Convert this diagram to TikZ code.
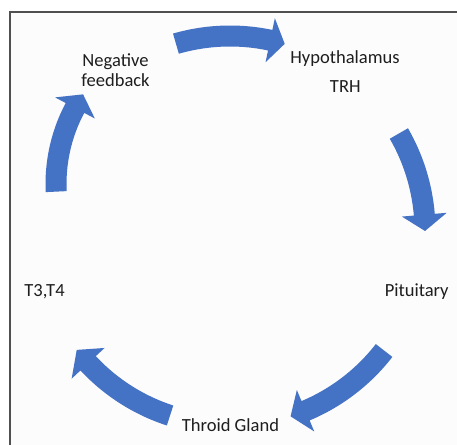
\documentclass[tikz,border=0pt]{standalone}
\usepackage{fontspec}
\setmainfont{Carlito}
\definecolor{arrowblue}{HTML}{4472C4}
\definecolor{framegray}{HTML}{505050}
\definecolor{bggray}{HTML}{FCFCFC}
\definecolor{textgray}{HTML}{1E1E1E}
\def\arrbw{10.5}
\def\arrhw{22.5}
% #1,#2 centre (pixels), #3 radius, #4 tail angle, #5 head-base angle, #6 tip angle
\newcommand\cyclearrow[6]{%
  \begin{scope}[shift={(#1,-#2)}]
    \fill[cyclearr] plot[domain=#4:#5,samples=40] (\x:{#3+\arrbw})
      -- (#5:{#3+\arrhw}) -- (#6:#3) -- (#5:{#3-\arrhw})
      -- plot[domain=#5:#4,samples=40] (\x:{#3-\arrbw}) -- cycle;
  \end{scope}}
\tikzset{
  cyclearr/.style={fill=arrowblue},
  lbl/.style={font=\fontsize{13.9}{16}\selectfont, text=textgray, inner sep=0pt, anchor=base},
  framebox/.style={draw=framegray, line width=1.2pt},
}
\begin{document}
\begin{tikzpicture}[x=0.75pt,y=0.75pt]
\useasboundingbox (0,0) rectangle (457,-445);
\fill[bggray] (10,-12) rectangle (457,-445);
\draw[framebox] (457,-12) -- (10,-12) -- (10,-445);

% arrows
\cyclearrow{230}{231}{195}{106.1}{78.1}{73.7}
\cyclearrow{230}{231}{195}{30.0}{4.8}{0}
\cyclearrow{230}{231}{195}{-37.8}{-67.2}{-71.9}
\cyclearrow{230}{231}{194}{-108}{-137}{-142.2}
\cyclearrow{218}{184}{162}{182.7}{152}{146.4}

% labels
\node[lbl] (hyp) at (345,-63.3) {Hypothalamus};
\node[lbl] (trh) at (345.3,-92.7) {TRH};
\node[lbl] (pit) at (416.7,-296.7) {Pituitary};
\node[lbl] (thy) at (230.5,-431.7) {Throid Gland};
\node[lbl] (t34) at (44.5,-296.7) {T3,T4};
\node[lbl] (neg) at (115.5,-66.7) {Negative};
\node[lbl] (fb) at (115.5,-86.7) {feedback};
\end{tikzpicture}
\end{document}
